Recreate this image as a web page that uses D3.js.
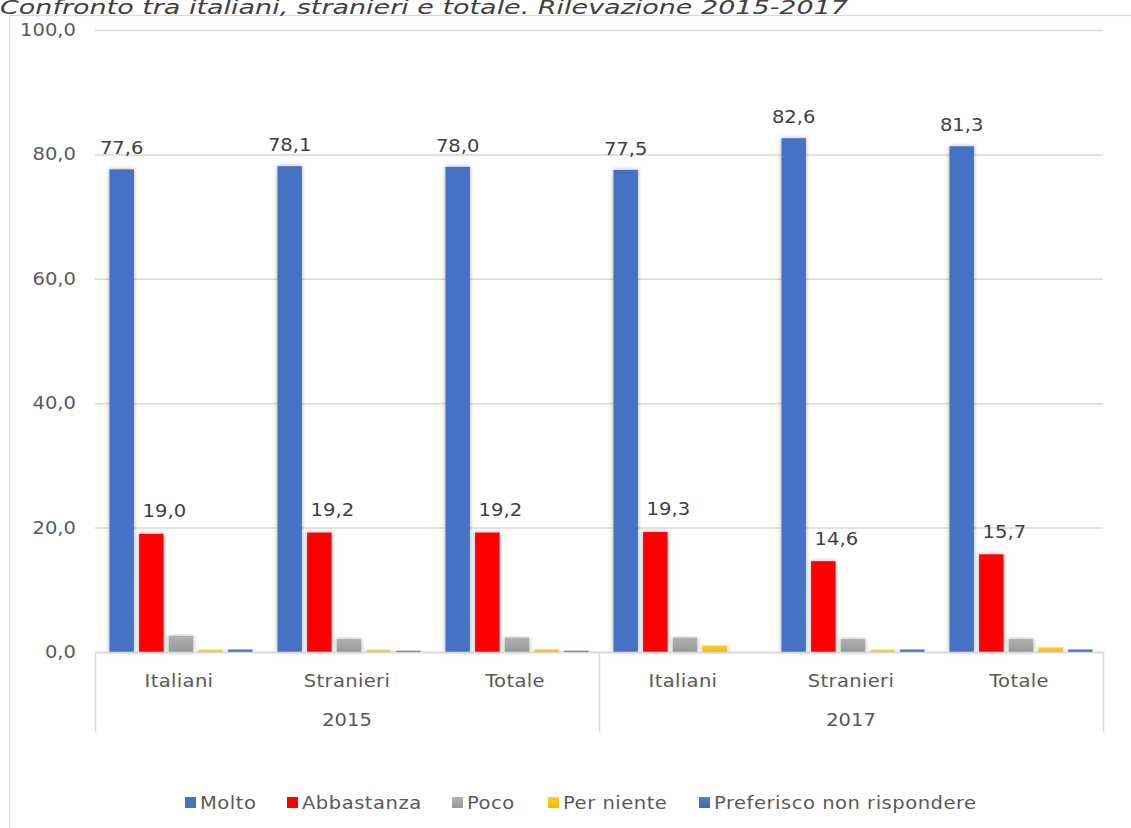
<!DOCTYPE html>
<html><head><meta charset="utf-8">
<script src="https://cdn.jsdelivr.net/npm/d3@7/dist/d3.min.js"></script>
<style>body{margin:0;background:#fff}svg{display:block}text{font-family:"DejaVu Sans",Verdana,sans-serif}</style>
</head><body><svg id="c" width="1131" height="828"></svg>
<script>
const title = "Confronto tra italiani, stranieri e totale. Rilevazione 2015-2017";
const years = ["2015", "2017"];
const groups = ["Italiani", "Stranieri", "Totale"];
const series = ["Molto", "Abbastanza", "Poco", "Per niente", "Preferisco non rispondere"];
const molto      = [77.6, 78.1, 78.0, 77.5, 82.6, 81.3];
const abbastanza = [19.0, 19.2, 19.2, 19.3, 14.6, 15.7];
const poco       = [2.6, 2.1, 2.3, 2.3, 2.1, 2.1];
const perNiente  = [0.3, 0.3, 0.4, 1.0, 0.3, 0.7];
const preferisco = [0.4, 0.2, 0.2, 0.0, 0.4, 0.4];
const yTicks = [0, 20, 40, 60, 80, 100];
const values = [molto, abbastanza, poco, perNiente, preferisco];
const labelled = [true, true, false, false, false];

const SX = 1.15;
const svg = d3.select("#c");
const defs = svg.append("defs");
const f = defs.append("filter").attr("id","sh").attr("x","-30%").attr("y","-10%").attr("width","160%").attr("height","130%");
f.append("feDropShadow").attr("dx",0).attr("dy",0).attr("stdDeviation",2).attr("flood-color","#000").attr("flood-opacity",0.35);
function grad(id, c1, c2){const g=defs.append("linearGradient").attr("id",id).attr("x1",0).attr("y1",0).attr("x2",0).attr("y2",1);
 g.append("stop").attr("offset","0%").attr("stop-color",c1); g.append("stop").attr("offset","100%").attr("stop-color",c2);}
grad("gPoco","#b2b2b2","#979797");
grad("gPer","#ffcd3a","#f5b800");
grad("gPref","#5580cc","#3c67b8");
const fills = ["#4472C4","#FF0000","url(#gPoco)","url(#gPer)","url(#gPref)"];

// frame
svg.append("rect").attr("x",9.5).attr("y",15.5).attr("width",1130).attr("height",840).attr("fill","none").attr("stroke","#d9d9d9").attr("stroke-width",1.2);

// title
svg.append("text").attr("x",0).attr("y",14).attr("font-size",19).attr("font-style","italic").attr("fill","#404040")
  .attr("textLength",848).attr("lengthAdjust","spacingAndGlyphs").text(title);

const L=95, R=1103, T=30, B=652;
const y = d3.scaleLinear().domain([0,100]).range([B,T]);
const cats = d3.range(6);
const x0 = d3.scaleBand().domain(cats).range([L,R]).padding(0);
const x1 = d3.scaleBand().domain(d3.range(5)).range([0,x0.bandwidth()]).paddingInner(0.175).paddingOuter(0.42).align(0.58);

// grid
svg.append("g").selectAll("line").data(yTicks).join("line")
  .attr("x1",L).attr("x2",R).attr("y1",d=>y(d)+0.5).attr("y2",d=>y(d)+0.5)
  .attr("stroke","#d9d9d9").attr("stroke-width",1.5);
// y labels
svg.append("g").selectAll("text").data(yTicks).join("text")
  .attr("transform",d=>`translate(76,${y(d)+6}) scale(${SX},1)`).attr("text-anchor","end")
  .attr("font-size",17).attr("fill","#595959").text(d=>d3.format(".1f")(d).replace(".",","));

// bars
const bars = svg.append("g");
values.forEach((arr,si)=>{
  bars.append("g").selectAll("rect").data(arr).join("rect")
   .attr("x",(d,i)=>x0(i)+x1(si)).attr("width",x1.bandwidth())
   .attr("y",d=>y(d)).attr("height",d=>B-y(d)).attr("fill",fills[si]).attr("filter","url(#sh)");
});
// labels
values.forEach((arr,si)=>{
  if(!labelled[si]) return;
  const dx = si===1 ? 13 : 0, gap = si===1 ? 16.5 : 15;
  svg.append("g").selectAll("text").data(arr).join("text")
   .attr("transform",(d,i)=>`translate(${x0(i)+x1(si)+x1.bandwidth()/2+dx},${y(d)-gap}) scale(${SX},1)`)
   .attr("text-anchor","middle").attr("font-size",17).attr("fill","#404040")
   .text(d=>d3.format(".1f")(d).replace(".",","));
});

// category axis
const ax = svg.append("g");
ax.append("line").attr("x1",L).attr("x2",R).attr("y1",B+0.5).attr("y2",B+0.5).attr("stroke","#d9d9d9").attr("stroke-width",1.5);
const yearScale = d3.scaleBand().domain(years).range([L,R]);
[L, yearScale("2017"), R].forEach(xv=>{
  ax.append("line").attr("x1",xv+0.5).attr("x2",xv+0.5).attr("y1",B).attr("y2",732).attr("stroke","#d9d9d9").attr("stroke-width",1.5);
});
const catLabels = years.flatMap(()=>groups);
ax.selectAll("text.cat").data(catLabels).join("text").attr("class","cat")
  .attr("transform",(d,i)=>`translate(${x0(i)+x0.bandwidth()/2},687) scale(${SX},1)`)
  .attr("text-anchor","middle").attr("font-size",17).attr("fill","#595959").attr("letter-spacing",0.3).text(d=>d);
ax.selectAll("text.yr").data(years).join("text").attr("class","yr")
  .attr("transform",d=>`translate(${yearScale(d)+yearScale.bandwidth()/2},726) scale(${SX},1)`)
  .attr("text-anchor","middle").attr("font-size",17).attr("fill","#595959").text(d=>d);

// legend
const legX = [185, 287, 452, 548, 699];
const lg = svg.append("g");
series.forEach((s,i)=>{
  lg.append("rect").attr("x",legX[i]).attr("y",797).attr("width",11).attr("height",11).attr("fill",fills[i]);
  lg.append("text").attr("transform",`translate(${legX[i]+15},809) scale(${SX},1)`).attr("font-size",17)
    .attr("letter-spacing",0.45).attr("fill","#595959").text(s);
});
</script></body></html>
